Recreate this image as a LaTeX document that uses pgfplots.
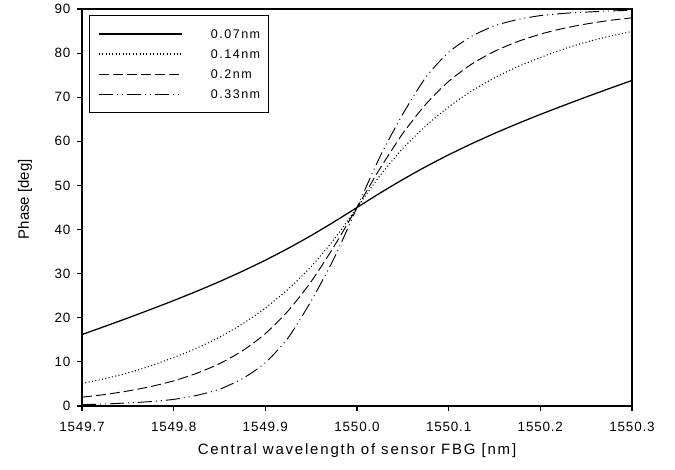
\documentclass[border=0pt]{standalone}
\usepackage{pgfplots}
\usepackage{pgfplotstable}
\pgfplotsset{compat=1.18}
\usepackage{fontspec}
\setmainfont{Liberation Sans}
\newfontfamily\spaced[LetterSpace=12]{Liberation Sans}
\newfontfamily\tickfont[LetterSpace=6]{Liberation Sans}

\pgfplotstableread{
x s1 s2 s3 s4
1549.700 16.2 5.1 2.0 0.30
1549.725 18.05 6.2 2.6 0.45
1549.750 19.95 7.5 3.4 0.70
1549.775 21.9 9.1 4.4 1.00
1549.800 23.9 11.0 5.7 1.50
1549.825 26.0 13.1 7.4 2.40
1549.850 28.2 15.6 9.6 3.80
1549.875 30.55 18.6 12.5 6.20
1549.900 33.05 22.2 16.4 9.80
1549.925 35.75 26.5 21.6 15.5
1549.950 38.65 31.6 28.2 23.8
1549.975 41.75 37.8 36.2 33.5
1550.000 45.0 45.0 45.0 45.0
1550.025 48.25 52.2 53.8 56.5
1550.050 51.35 58.4 61.8 66.2
1550.075 54.25 63.5 68.4 74.5
1550.100 56.95 67.8 73.6 80.2
1550.125 59.45 71.4 77.5 83.8
1550.150 61.8 74.4 80.4 86.2
1550.175 64.0 76.9 82.6 87.6
1550.200 66.1 79.0 84.3 88.5
1550.225 68.1 80.9 85.6 89.0
1550.250 70.05 82.5 86.6 89.3
1550.275 71.95 83.8 87.4 89.55
1550.300 73.8 84.9 88.0 89.7
}\data

\begin{document}
\begin{tikzpicture}
\useasboundingbox (-61.5pt,-48pt) rectangle (444.75pt,304.5pt);
\begin{axis}[
  scale only axis, width=412.5pt, height=297.75pt,
  xmin=1549.7, xmax=1550.3, ymin=0, ymax=90,
  xtick={1549.7,1549.8,1549.9,1550.0,1550.1,1550.2,1550.3},
  ytick={0,10,20,30,40,50,60,70,80,90},
  scaled x ticks=false,
  /pgf/number format/assume math mode=true,
  x tick label style={yshift=-5pt, /pgf/number format/.cd, fixed, fixed zerofill, precision=1, 1000 sep={}},
  y tick label style={xshift=-1.5pt},
  tick label style={font=\tickfont\fontsize{10.1}{12}\selectfont},
  tick align=outside, tick pos=left, major tick length=3.75pt,
  axis line style={line width=0.9pt},
  every tick/.style={line width=0.9pt, black},
  xlabel={\spaced Central wavelength of sensor FBG [nm]},
  ylabel={Phase [deg]},
  xlabel style={at={(axis description cs:0.5,-0.112)}, anchor=center, font=\fontsize{11.25}{13}\selectfont},
  ylabel style={at={(axis description cs:-0.1036,0.521)}, anchor=center, font=\fontsize{11.25}{13}\selectfont},
  legend style={at={(axis description cs:0.0127,0.9856)}, anchor=north west,
    draw=black, line width=0.9pt, inner xsep=6.5pt, inner ysep=10.25pt,
    font=\spaced\fontsize{9.4}{11}\selectfont, row sep=7.5pt,
    nodes={inner sep=0pt, text height=7pt, text depth=0.5pt}},
  legend cell align=left,
  legend image code/.code={\draw[#1] (0pt,0pt) -- (62.25pt,0pt); \path (83.5pt,0pt);},
]
\addplot[black, line width=0.95pt, smooth, tension=0.4] table[x=x, y=s1] {\data};
\addlegendentry{0.07nm}
\addplot[black, line width=0.8pt, smooth, tension=0.4, dash pattern=on 0.75pt off 1.8pt] table[x=x, y=s2] {\data};
\addlegendentry{0.14nm}
\addplot[black, line width=0.7pt, smooth, tension=0.4, dash pattern=on 7.5pt off 3pt] table[x=x, y=s3] {\data};
\addlegendentry{0.2nm}
\addplot[black, line width=0.7pt, smooth, tension=0.4, dash pattern=on 10.5pt off 3pt on 0.75pt off 3pt on 0.75pt off 3pt] table[x=x, y=s4] {\data};
\addlegendentry{0.33nm}
\end{axis}
\end{tikzpicture}
\end{document}
